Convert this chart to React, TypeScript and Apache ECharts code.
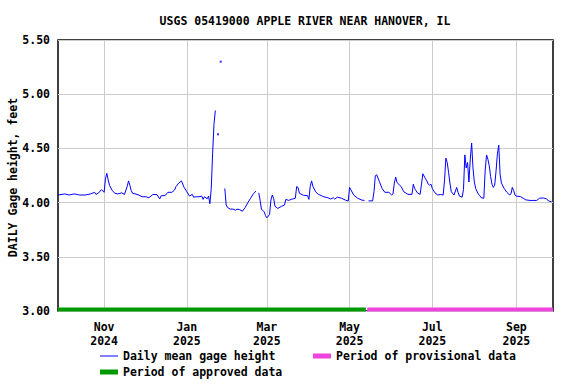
import React, { useEffect, useRef } from "react";
import * as echarts from "echarts";

const TITLE = "USGS 05419000 APPLE RIVER NEAR HANOVER, IL";
const Y_NAME = "DAILY Gage height, feet";
const MONTHS = ["Jan", "Feb", "Mar", "Apr", "May", "Jun", "Jul", "Aug", "Sep", "Oct", "Nov", "Dec"];

const AXIS_START = "2024-09-28";
const AXIS_END = "2025-09-28";
const TICK_DATES = ["2024-11-01", "2025-01-01", "2025-03-01", "2025-05-01", "2025-07-01", "2025-09-01"];
const Y_MIN = 3.0;
const Y_MAX = 5.5;
const Y_STEP = 0.5;

const gageDates = [
  "2024-09-28", "2024-10-03", "2024-10-06", "2024-10-10", "2024-10-14", "2024-10-18", "2024-10-22", "2024-10-25",
  "2024-10-26", "2024-10-28", "2024-10-30", "2024-11-01", "2024-11-02", "2024-11-03", "2024-11-04", "2024-11-05",
  "2024-11-07", "2024-11-09", "2024-11-11", "2024-11-14", "2024-11-16", "2024-11-18", "2024-11-19", "2024-11-20",
  "2024-11-21", "2024-11-22", "2024-11-26", "2024-11-29", "2024-12-02", "2024-12-04", "2024-12-07", "2024-12-10",
  "2024-12-12", "2024-12-13", "2024-12-16", "2024-12-18", "2024-12-21", "2024-12-23", "2024-12-24", "2024-12-26",
  "2024-12-28", "2024-12-30", "2025-01-01", "2025-01-03", "2025-01-05", "2025-01-06", "2025-01-08", "2025-01-10",
  "2025-01-12", "2025-01-13", "2025-01-14", "2025-01-16", "2025-01-17", "2025-01-18", "2025-01-19", "2025-01-20",
  "2025-01-21", "2025-01-22", "2025-01-23", "2025-01-29", "2025-01-30", "2025-01-31", "2025-02-02", "2025-02-04",
  "2025-02-06", "2025-02-07", "2025-02-09", "2025-02-11", "2025-02-13", "2025-02-15", "2025-02-17", "2025-02-19",
  "2025-02-21", "2025-02-22", "2025-02-23", "2025-02-24", "2025-02-25", "2025-02-27", "2025-02-28", "2025-03-01",
  "2025-03-03", "2025-03-04", "2025-03-05", "2025-03-06", "2025-03-07", "2025-03-09", "2025-03-12", "2025-03-14",
  "2025-03-15", "2025-03-17", "2025-03-19", "2025-03-22", "2025-03-23", "2025-03-24", "2025-03-25", "2025-03-28",
  "2025-03-31", "2025-04-01", "2025-04-02", "2025-04-03", "2025-04-04", "2025-04-06", "2025-04-08", "2025-04-12",
  "2025-04-15", "2025-04-17", "2025-04-19", "2025-04-20", "2025-04-22", "2025-04-25", "2025-04-28", "2025-04-30",
  "2025-05-01", "2025-05-02", "2025-05-04", "2025-05-07", "2025-05-10", "2025-05-12", "2025-05-13", "2025-05-15",
  "2025-05-18", "2025-05-19", "2025-05-20", "2025-05-21", "2025-05-23", "2025-05-25", "2025-05-27", "2025-05-30",
  "2025-06-01", "2025-06-02", "2025-06-03", "2025-06-04", "2025-06-05", "2025-06-08", "2025-06-10", "2025-06-13",
  "2025-06-16", "2025-06-17", "2025-06-18", "2025-06-19", "2025-06-20", "2025-06-22", "2025-06-23", "2025-06-24",
  "2025-06-26", "2025-06-27", "2025-06-28", "2025-06-29", "2025-06-30", "2025-07-01", "2025-07-03", "2025-07-05",
  "2025-07-07", "2025-07-09", "2025-07-10", "2025-07-11", "2025-07-12", "2025-07-13", "2025-07-14", "2025-07-15",
  "2025-07-17", "2025-07-19", "2025-07-20", "2025-07-21", "2025-07-23", "2025-07-24", "2025-07-25", "2025-07-26",
  "2025-07-27", "2025-07-28", "2025-07-29", "2025-07-30", "2025-07-31", "2025-08-01", "2025-08-02", "2025-08-04",
  "2025-08-05", "2025-08-06", "2025-08-08", "2025-08-09", "2025-08-10", "2025-08-11", "2025-08-12", "2025-08-13",
  "2025-08-14", "2025-08-15", "2025-08-16", "2025-08-17", "2025-08-18", "2025-08-19", "2025-08-20", "2025-08-21",
  "2025-08-23", "2025-08-25", "2025-08-27", "2025-08-28", "2025-08-29", "2025-08-30", "2025-08-31", "2025-09-01",
  "2025-09-04", "2025-09-06", "2025-09-08", "2025-09-11", "2025-09-16", "2025-09-18", "2025-09-21", "2025-09-23",
  "2025-09-25", "2025-09-27",
];

const gageValues: (number | null)[] = [
  4.07, 4.08, 4.07, 4.08, 4.07, 4.07, 4.08, 4.095,
  4.075, 4.09, 4.12, 4.095, 4.22, 4.27, 4.21, 4.16,
  4.11, 4.086, 4.08, 4.09, 4.075, 4.148, 4.2, 4.16,
  4.11, 4.086, 4.073, 4.054, 4.054, 4.045, 4.075, 4.073,
  4.033, 4.063, 4.065, 4.095, 4.095, 4.117, 4.148, 4.18,
  4.2, 4.14, 4.1, 4.06, 4.076, 4.05, 4.054, 4.054,
  4.06, 4.03, 4.054, 4.035, 4.06, 3.99, 4.13, 4.45,
  4.72, 4.85, null, 4.13, 3.98, 3.955, 3.94, 3.94,
  3.93, 3.94, 3.935, 3.92, 3.955, 4.0, 4.04, 4.08,
  4.107, null, 4.09, 4.023, 3.94, 3.915, 3.88, 3.86,
  3.89, 4.023, 4.07, 4.04, 3.967, 3.946, 3.967, 3.977,
  4.03, 4.02, 4.03, 4.04, 4.148, 4.14, 4.086, 4.067,
  4.065, 4.03, 4.15, 4.2, 4.148, 4.1, 4.076, 4.054,
  4.045, 4.033, 4.045, 4.033, 4.05, 4.04, 4.023, 4.014,
  4.14, 4.117, 4.07, 4.04, 4.023, 4.02, null, 4.016,
  4.016, 4.1, 4.248, 4.257, 4.194, 4.13, 4.095, 4.095,
  4.07, 4.08, 4.18, 4.236, 4.185, 4.148, 4.1, 4.076,
  4.076, 4.17, 4.13, 4.11, 4.09, 4.076, 4.164, 4.266,
  4.22, 4.2, 4.17, 4.16, 4.17, 4.13, 4.09, 4.07,
  4.075, 4.07, 4.2, 4.41, 4.37, 4.28, 4.18, 4.1,
  4.07, 4.14, 4.095, 4.06, 4.05, 4.12, 4.44, 4.32,
  4.37, 4.19, 4.4, 4.55, 4.32, 4.19, 4.13, 4.076,
  4.065, 4.045, 4.04, 4.3, 4.44, 4.4, 4.34, 4.24,
  4.17, 4.14, 4.16, 4.29, 4.45, 4.53, 4.26, 4.18,
  4.13, 4.095, 4.07, 4.08, 4.14, 4.11, 4.07, 4.06,
  4.055, 4.04, 4.025, 4.02, 4.02, 4.04, 4.043, 4.035,
  4.014, 4.008,
];

// single days surrounded by missing days
const isolatedDates = ["2025-01-24", "2025-01-26"];
const isolatedValues = [4.63, 5.3];

const approvedPeriod = ["2024-09-28", "2025-05-13"];
const provisionalPeriod = ["2025-05-14", "2025-09-28"];
const PERIOD_LEVEL = 3.014;

const FONT = "'DejaVu Sans Mono', 'Liberation Mono', monospace";

const ts = (s: string) => {
  const [y, m, d] = s.split("-").map(Number);
  return Date.UTC(y, m - 1, d);
};

export default function App() {
  const ref = useRef<HTMLDivElement>(null);

  useEffect(() => {
    if (!ref.current) return;
    const chart = echarts.init(ref.current, undefined, { renderer: "svg" });

    const txt = { fontFamily: FONT, fontWeight: "bold" as const, fontSize: 11.5, color: "#000" };
    const tickValues = TICK_DATES.map(ts);

    const gageData = gageDates.map((d, i) => [ts(d), gageValues[i] === null ? "-" : gageValues[i]]);
    const isoData = isolatedDates.map((d, i) => [ts(d), isolatedValues[i]]);

    const legendBase = {
      itemWidth: 18,
      itemGap: 0,
      padding: 0,
      icon: "rect",
      selectedMode: false,
      textStyle: { ...txt },
    };

    chart.setOption({
      animation: false,
      backgroundColor: "#fff",
      title: {
        text: TITLE,
        left: 305,
        top: 15,
        padding: 0,
        textAlign: "center",
        textStyle: { ...txt },
      },
      graphic: [
        {
          type: "text",
          x: 12.5,
          y: 177.5,
          rotation: Math.PI / 2,
          style: {
            text: Y_NAME,
            fill: "#000",
            font: `bold 11.5px ${FONT}`,
            textAlign: "center",
            textVerticalAlign: "middle",
            align: "center",
            verticalAlign: "middle",
          },
        },
      ],
      grid: {
        left: 58,
        top: 40,
        width: 495,
        height: 271,
        show: true,
        borderColor: "#000",
        borderWidth: 1.5,
        backgroundColor: "transparent",
        containLabel: false,
        outerBoundsMode: "none",
      },
      legend: [
        { ...legendBase, itemHeight: 1, data: ["Daily mean gage height"], left: 100, top: 350 },
        { ...legendBase, itemHeight: 5, data: ["Period of provisional data"], left: 313, top: 350 },
        { ...legendBase, itemHeight: 5, data: ["Period of approved data"], left: 100, top: 366 },
      ],
      xAxis: {
        type: "value",
        min: ts(AXIS_START),
        max: ts(AXIS_END),
        scale: true,
        axisLine: { show: false },
        axisTick: { show: false, customValues: tickValues },
        splitLine: { show: true, lineStyle: { color: "#cccccc", width: 1 } },
        axisLabel: {
          customValues: tickValues,
          ...txt,
          lineHeight: 14,
          margin: 9,
          formatter: (v: number) => {
            const d = new Date(v);
            return MONTHS[d.getUTCMonth()] + "\n" + d.getUTCFullYear();
          },
        },
      },
      yAxis: {
        type: "value",
        min: Y_MIN,
        max: Y_MAX,
        interval: Y_STEP,
        axisLine: { show: false },
        axisTick: { show: false },
        splitLine: { show: true, lineStyle: { color: "#cccccc", width: 1 } },
        axisLabel: {
          ...txt,
          margin: 8,
          formatter: (v: number) => v.toFixed(2),
        },
      },
      series: [
        {
          name: "Daily mean gage height",
          type: "line",
          data: gageData,
          symbol: "none",
          connectNulls: false,
          color: "#0000ff",
          lineStyle: { color: "#0000ff", width: 1 },
          z: 4,
        },
        {
          name: "isolated",
          type: "scatter",
          data: isoData,
          symbol: "rect",
          symbolSize: 2,
          itemStyle: { color: "#0000ff" },
          z: 4,
        },
        {
          name: "Period of approved data",
          type: "line",
          data: approvedPeriod.map((d) => [ts(d), PERIOD_LEVEL]),
          symbol: "none",
          clip: false,
          color: "#009900",
          lineStyle: { color: "#009900", width: 4 },
          z: 5,
        },
        {
          name: "Period of provisional data",
          type: "line",
          data: provisionalPeriod.map((d) => [ts(d), PERIOD_LEVEL]),
          symbol: "none",
          clip: false,
          color: "#ee44dd",
          lineStyle: { color: "#ee44dd", width: 4 },
          z: 5,
        },
      ],
    });

    return () => chart.dispose();
  }, []);

  return (
    <div
      ref={ref}
      style={{ position: "fixed", left: 0, top: 0, width: 576, height: 384, background: "#fff" }}
    />
  );
}
